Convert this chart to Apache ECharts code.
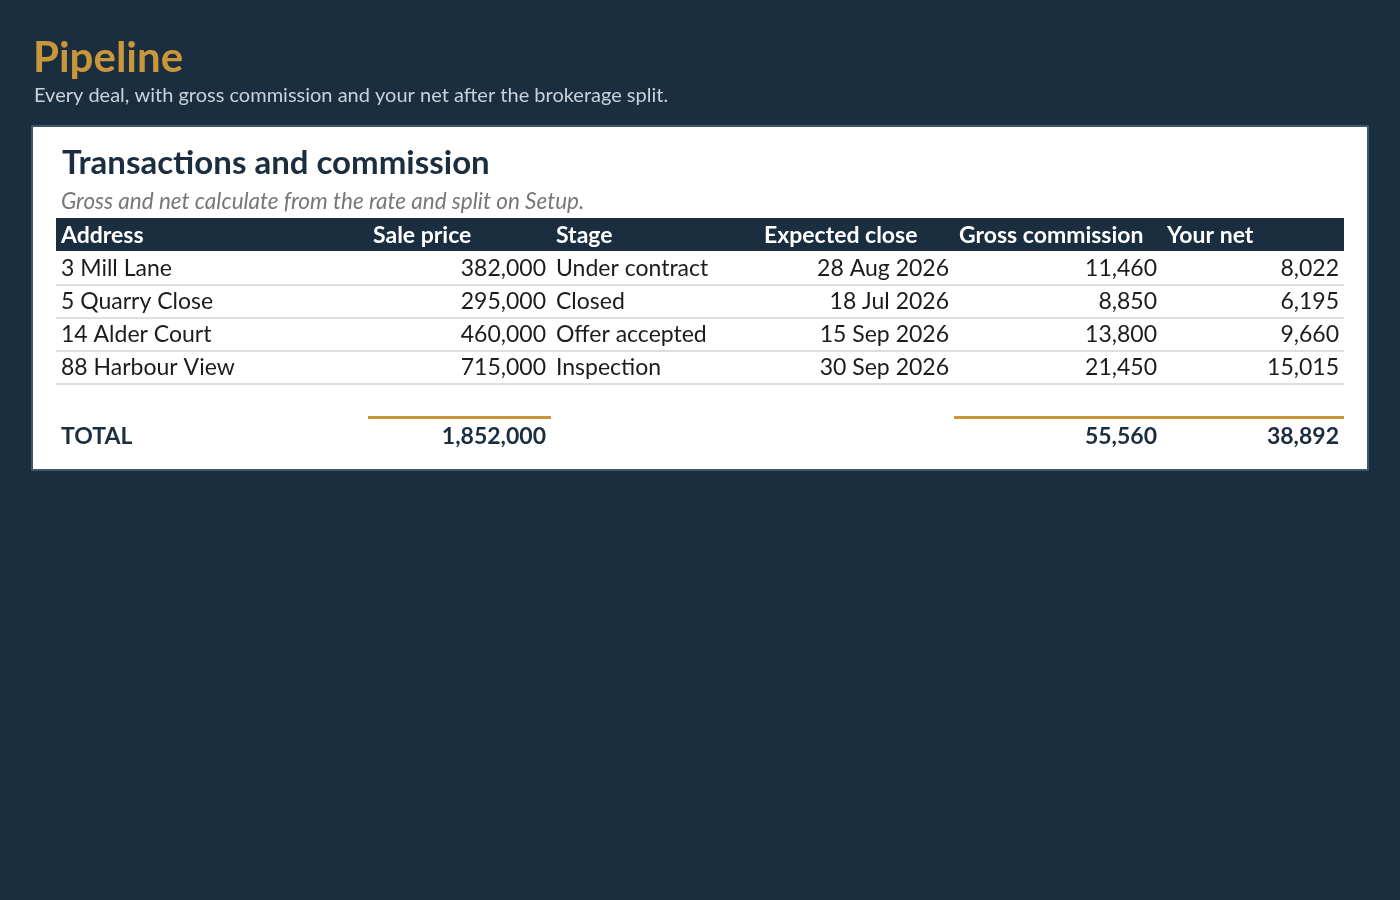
<!DOCTYPE html>
<html>
<head>
<meta charset="utf-8">
<script src="https://cdn.jsdelivr.net/npm/echarts@6/dist/echarts.min.js"></script>
<style>
  html, body { margin: 0; padding: 0; background: #1a2e40; }
  #main { width: 1400px; height: 900px; }
</style>
</head>
<body>
<div id="main"></div>
<script>
// table data
const headers = ['Address', 'Sale price', 'Stage', 'Expected close', 'Gross commission', 'Your net'];
const addresses = ['3 Mill Lane', '5 Quarry Close', '14 Alder Court', '88 Harbour View'];
const salePrices = [382000, 295000, 460000, 715000];
const stages = ['Under contract', 'Closed', 'Offer accepted', 'Inspection'];
const closeDates = ['28 Aug 2026', '18 Jul 2026', '15 Sep 2026', '30 Sep 2026'];
const grossComm = [11460, 8850, 13800, 21450];
const yourNet = [8022, 6195, 9660, 15015];
const totalLabel = 'TOTAL';
const totals = [1852000, 55560, 38892];

const FONT = 'Lato, "Noto Sans", sans-serif';
const NAVY = '#1a2e40';
const GOLD = '#c9973a';

// column layout: left edge, right edge, value alignment
const colX = [56, 368, 551, 759, 954, 1162, 1344];
const colAlign = ['left', 'right', 'left', 'right', 'right', 'right'];
const headY = 236, rowY0 = 269, rowH = 33, totalY = 437;

function fmt(v) { return v.toLocaleString('en-US'); }

function cellText(col, y, text, opts) {
  const al = opts.align || 'left';
  const x = al === 'left' ? colX[col] + 5 : colX[col + 1] - 5;
  return {
    type: 'text', x: x, y: y,
    style: {
      text: text, fill: opts.color || '#1c1c1c', fontFamily: FONT,
      fontSize: opts.size || 23, fontWeight: opts.weight || 'normal',
      align: al, verticalAlign: 'middle'
    }
  };
}

const els = [];
// page titles
els.push({ type: 'text', x: 33, y: 58, style: { text: 'Pipeline', fill: GOLD, fontFamily: FONT, fontSize: 42, fontWeight: 'bold', verticalAlign: 'middle' } });
els.push({ type: 'text', x: 34, y: 96, style: { text: 'Every deal, with gross commission and your net after the brokerage split.', fill: '#c9d2db', fontFamily: FONT, fontSize: 20, verticalAlign: 'middle' } });
// card
els.push({ type: 'rect', shape: { x: 32, y: 126, width: 1336, height: 344 }, style: { fill: '#ffffff', stroke: '#3e5669', lineWidth: 2 } });
els.push({ type: 'text', x: 62, y: 163, style: { text: 'Transactions and commission', fill: NAVY, fontFamily: FONT, fontSize: 33, fontWeight: 'bold', verticalAlign: 'middle' } });
els.push({ type: 'text', x: 61, y: 202, style: { text: 'Gross and net calculate from the rate and split on Setup.', fill: '#777777', fontFamily: FONT, fontSize: 22.5, fontStyle: 'italic', verticalAlign: 'middle' } });
// header band
els.push({ type: 'rect', shape: { x: 56, y: 218, width: 1288, height: 33 }, style: { fill: NAVY } });
headers.forEach((h, i) => els.push(cellText(i, headY, h, { color: '#ffffff', weight: 'bold' })));
// rows
addresses.forEach((a, r) => {
  const y = rowY0 + r * rowH;
  const vals = [a, fmt(salePrices[r]), stages[r], closeDates[r], fmt(grossComm[r]), fmt(yourNet[r])];
  vals.forEach((v, c) => els.push(cellText(c, y, v, { align: colAlign[c] })));
  els.push({ type: 'rect', shape: { x: 56, y: rowY0 - 1 + r * rowH + 16, width: 1288, height: 2 }, style: { fill: '#dedede' } });
});
// totals
els.push({ type: 'rect', shape: { x: colX[1], y: 416, width: colX[2] - colX[1], height: 3 }, style: { fill: GOLD } });
els.push({ type: 'rect', shape: { x: colX[4], y: 416, width: colX[6] - colX[4], height: 3 }, style: { fill: GOLD } });
els.push(cellText(0, totalY, totalLabel, { weight: 'bold', color: NAVY }));
els.push(cellText(1, totalY, fmt(totals[0]), { align: 'right', weight: 'bold', color: NAVY }));
els.push(cellText(4, totalY, fmt(totals[1]), { align: 'right', weight: 'bold', color: NAVY }));
els.push(cellText(5, totalY, fmt(totals[2]), { align: 'right', weight: 'bold', color: NAVY }));

const chart = echarts.init(document.getElementById('main'), null, { renderer: 'canvas' });
chart.setOption({
  backgroundColor: NAVY,
  animation: false,
  graphic: { elements: els }
});
</script>
</body>
</html>
